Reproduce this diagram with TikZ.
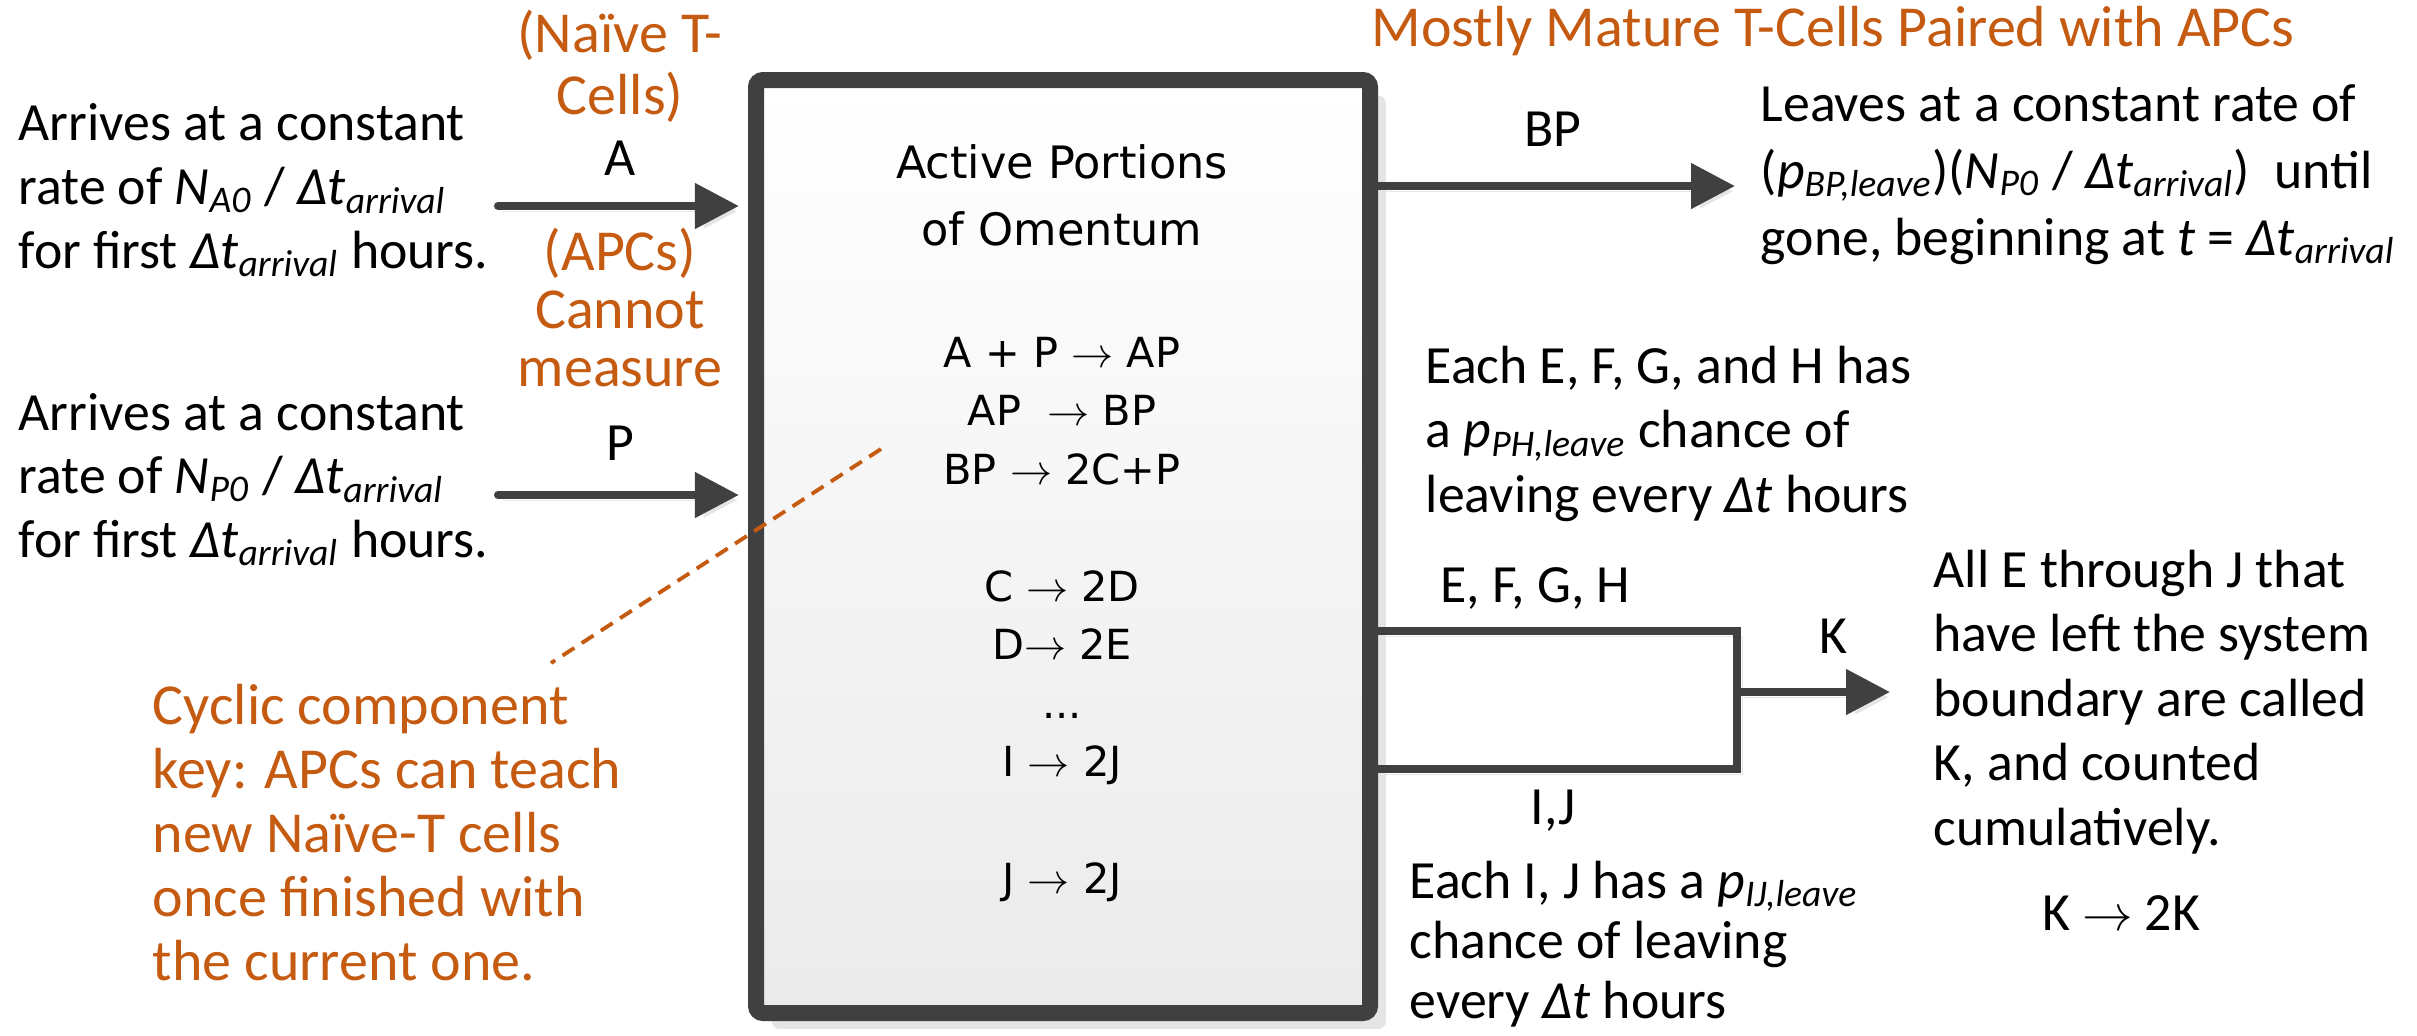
\documentclass[tikz,border=0pt]{standalone}
\usepackage{fontspec}
\setmainfont{Carlito}
\newfontfamily\boxfont{DejaVu Sans}
\usepackage{tikz}
\usetikzlibrary{arrows.meta, positioning, calc, shadows}
\definecolor{keyorange}{HTML}{C55A11}
\definecolor{linegray}{HTML}{404040}
\newcommand{\dtarr}{\textit{Δt}\textsubscript{\textit{arrival}}}
\newcommand{\prob}[1]{\textit{p}\textsubscript{\textit{#1}}}

\begin{document}
\begin{tikzpicture}[
    txt/.style={inner sep=0pt, align=left, anchor=base west, font=\fontsize{15.3}{18.07}\selectfont},
    lbl/.style={inner sep=0pt, anchor=base, font=\fontsize{15.3}{18.07}\selectfont},
    orangetxt/.style={inner sep=0pt, align=center, anchor=base, text=keyorange, font=\fontsize{16.5}{17.6}\selectfont},
    boxtxt/.style={inner sep=0pt, align=center, anchor=base, font=\boxfont\fontsize{12.7}{18.8}\selectfont},
    box/.style={draw=linegray, line width=4.55pt, rounded corners=2pt, top color=white, bottom color=black!8,
        minimum width=6.14cm, minimum height=9.33cm, inner sep=0pt,
        drop shadow={shadow xshift=4.5pt, shadow yshift=-4.5pt, fill=black!10, opacity=1}},
    flow/.style={draw=linegray, line width=2.28pt, line cap=round, -{Triangle[length=12.5pt,width=12.5pt]},
        preaction={draw=black!10, transform canvas={shift={(1.5pt,-1.5pt)}}}},
    pipe/.style={draw=linegray, line width=2.28pt,
        preaction={draw=black!10, transform canvas={shift={(1.5pt,-1.5pt)}}}},
    cycleline/.style={draw=keyorange, line width=1.1pt, dash pattern=on 4pt off 2.5pt}
]
\useasboundingbox (0,0) rectangle (24.17,-10.35);

% the omentum compartment
\node[box] (omentum) at (10.63,-5.465) {};
\node[boxtxt] (omentum-title) at (10.62,-2.45) {Active Portions\\of Omentum};
\node[boxtxt, font=\boxfont\fontsize{11.8}{16.64}\selectfont] (reactions) at (10.62,-8.935)
    {A + P $\rightarrow$ AP\\AP \ $\rightarrow$ BP\\BP $\rightarrow$ 2C+P\\[16.64pt]
     C $\rightarrow$ 2D\\D$\rightarrow$ 2E\\...\\I $\rightarrow$ 2J\\[16.64pt]J $\rightarrow$ 2J};

% inputs
\node[txt] (arrive-a) at (0.18,-2.68) {Arrives at a constant\\rate of \textit{N}\textsubscript{\textit{A0}} / \dtarr\\for first \dtarr{} hours.};
\node[txt] (arrive-p) at (0.18,-5.57) {Arrives at a constant\\rate of \textit{N}\textsubscript{\textit{P0}} / \dtarr\\for first \dtarr{} hours.};
\node[orangetxt] (naive) at (6.20,-1.14) {(Naïve T-\\Cells)};
\node[lbl] (lbl-a) at (6.20,-1.75) {A};
\node[orangetxt, font=\fontsize{16.5}{16.5}\selectfont] (apcs) at (6.20,-3.86) {(APCs)\\Cannot\\measure};
\node[lbl] (lbl-p) at (6.20,-4.60) {P};
\coordinate (a-start) at (4.98,-2.06);
\coordinate (p-start) at (4.98,-4.95);
\draw[flow, shorten >=2.6pt] (a-start) -- (a-start -| omentum.west); %A in
\draw[flow, shorten >=2.6pt] (p-start) -- (p-start -| omentum.west); %P in

% outputs
\node[orangetxt, anchor=base west] (mature) at (13.71,-0.46) {Mostly Mature T-Cells Paired with APCs};
\node[lbl] (lbl-bp) at (15.53,-1.46) {BP};
\node[txt, font=\fontsize{15.3}{19}\selectfont] (leaves) at (17.60,-2.55)
    {Leaves at a constant rate of\\(\prob{BP,leave})(\textit{N}\textsubscript{\textit{P0}} / \dtarr)\ \ until\\gone, beginning at \textit{t} = \dtarr};
\coordinate (bp-end) at (17.35,-1.86);
\draw[flow] (omentum.east |- bp-end) -- (bp-end); %BP out

\node[txt, font=\fontsize{15.3}{18.35}\selectfont] (efgh-note) at (14.25,-5.12)
    {Each E, F, G, and H has\\a \prob{PH,leave} chance of\\leaving every \textit{Δt} hours};
\node[txt] (lbl-efgh) at (14.40,-6.02) {E, F, G, H};
\node[lbl] (lbl-ij) at (15.53,-8.24) {I,J};
\node[txt, font=\fontsize{15.3}{17.07}\selectfont] (ij-note) at (14.09,-10.18)
    {Each I, J has a \prob{IJ,leave}\\chance of leaving\\every \textit{Δt} hours};
\coordinate (join-top) at (17.37,-6.31);
\coordinate (join-bot) at (17.37,-7.69);
\coordinate (k-end) at (18.90,-6.92);
\draw[pipe] (omentum.east |- join-top) -- (join-top) -- (join-bot) -- (omentum.east |- join-bot); %E..J
\draw[flow] (join-top |- k-end) -- (k-end); %K out
\node[lbl] (lbl-k) at (18.33,-6.53) {K};
\node[txt, font=\fontsize{15.3}{18.35}\selectfont] (k-note) at (19.33,-8.45)
    {All E through J that\\have left the system\\boundary are called\\K, and counted\\cumulatively.};
\node[lbl] (k-rxn) at (21.21,-9.30) {K $\rightarrow$ 2K};

% cyclic component key
\node[txt, text=keyorange, font=\fontsize{16.5}{18.2}\selectfont] (cyclic) at (1.52,-9.80)
    {Cyclic component\\key: APCs can teach\\new Naïve-T cells\\once finished with\\the current one.};
\coordinate (cyc-top) at (8.81,-4.49);
\coordinate (cyc-bot) at (5.51,-6.63);
\draw[cycleline] (cyc-top) -- (cyc-bot);
\end{tikzpicture}
\end{document}
